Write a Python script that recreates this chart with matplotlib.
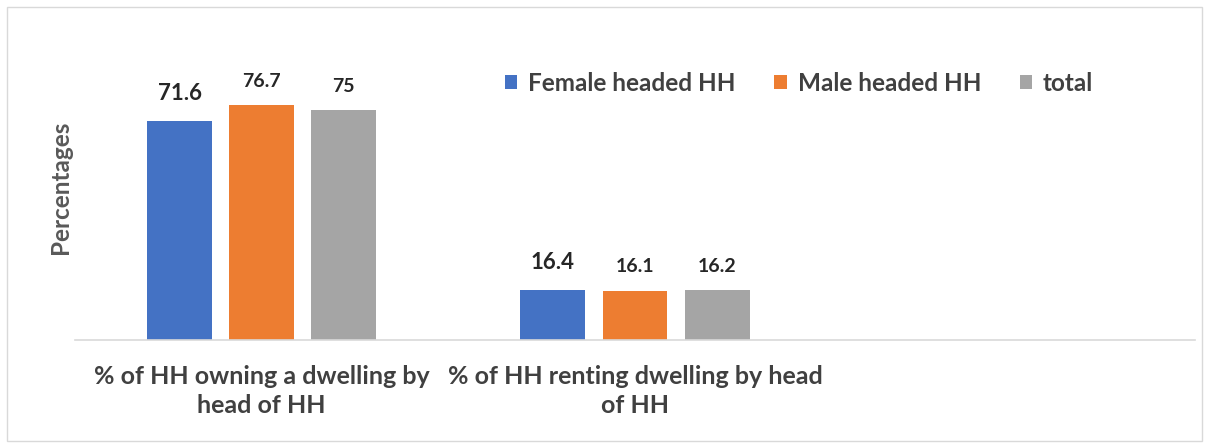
import numpy as np
import matplotlib.pyplot as plt
from matplotlib.patches import Rectangle

# data
categories = ['% of HH owning a dwelling by\nhead of HH',
              '% of HH renting dwelling by head\nof HH',
              '']
series     = ['Female headed HH', 'Male headed HH', 'total']
female     = [71.6, 16.4, np.nan]
male       = [76.7, 16.1, np.nan]
total      = [75, 16.2, np.nan]
values     = [female, male, total]
colors     = ['#4472C4', '#ED7D31', '#A5A5A5']

plt.rcParams['font.family'] = ['Lato', 'DejaVu Sans']
txt = '#404040'

fig = plt.figure(figsize=(12.09, 4.48), dpi=100)
ax  = fig.add_axes([75/1209, 108/448, 1120/1209, 306/448])

x     = np.arange(len(categories))
width = 0.174
step  = 0.22

for i, (name, vals, c) in enumerate(zip(series, values, colors)):
    bars = ax.bar(x + (i-1)*step, vals, width, color=c, label=name)
    for b, v in zip(bars, vals):
        if np.isnan(v):
            continue
        ax.annotate('%g' % v, (b.get_x() + b.get_width()/2, v),
                    xytext=(0, 12 if i == 0 else 11), textcoords='offset points',
                    ha='center', va='bottom', color='#262626',
                    fontsize=16 if i == 0 else 14, fontweight='bold')

ax.set_xlim(-0.5, len(categories)-0.5)
ax.set_ylim(0, 100)
ax.set_yticks([])
ax.set_xticks(x)
ax.set_xticklabels(categories, fontsize=18, fontweight='bold', color=txt,
                   linespacing=1.3)
ax.tick_params(axis='x', length=0, pad=18)
for s in ['top', 'right', 'left']:
    ax.spines[s].set_visible(False)
ax.spines['bottom'].set_color('#D9D9D9')
ax.spines['bottom'].set_linewidth(1.2)

ax.set_ylabel('Percentages', fontsize=17.5, fontweight='bold', color='#595959',
              labelpad=2)

leg = ax.legend(loc='center left', bbox_to_anchor=(505/1209, 1-83/448),
                bbox_transform=fig.transFigure, ncol=3, frameon=False,
                prop={'size': 17.5, 'weight': 'bold'},
                handlelength=0.5, handleheight=0.5, handletextpad=0.45,
                columnspacing=1.6, borderaxespad=0, borderpad=0)
for t in leg.get_texts():
    t.set_color(txt)

# outer chart border
fig.patches.append(Rectangle((7/1209, 7/448), 1195/1209, 434/448,
                             transform=fig.transFigure, fill=False,
                             edgecolor='#D9D9D9', linewidth=1))

fig.savefig('out.png', dpi=100)
